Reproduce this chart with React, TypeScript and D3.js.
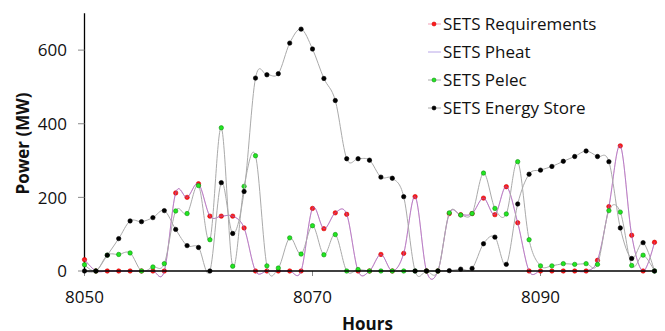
import { useEffect, useRef } from 'react';
import * as d3 from 'd3';

// hours 8050..8100, one reading per hour
const hours = d3.range(8050, 8101);

const requirements = [
  31, 0, 0, 0, 0, 0, 0, 0, 212, 200, 237, 149, 149, 149, 117, 0, 0, 0, 0, 0,
  170, 115, 158, 154, 0, 0, 45, 0, 48, 202, 0, 0, 156, 153, 156, 198, 153, 229, 131, 0,
  0, 0, 0, 0, 0, 29, 175, 340, 97, 0, 78,
];

const pheat = [
  31, 0, 0, 0, 0, 0, 0, 0, 212, 200, 237, 149, 149, 149, 117, 0, 0, 0, 0, 0,
  170, 115, 158, 154, 0, 0, 45, 0, 48, 202, 0, 0, 156, 153, 156, 198, 153, 229, 131, 0,
  0, 0, 0, 0, 0, 29, 175, 340, 97, 0, 78,
];

const pelec = [
  17, 0, 43, 45, 49, 0, 11, 20, 163, 156, 232, 85, 389, 13, 230, 313, 14, 8, 90, 46,
  123, 44, 99, 0, 4, 0, 0, 0, 0, 0, 0, 0, 158, 152, 156, 266, 170, 155, 297, 85,
  14, 14, 20, 18, 20, 18, 164, 160, 15, 43, 0,
];

const energyStore = [
  0, 0, 43, 88, 136, 134, 145, 164, 113, 69, 64, 0, 240, 102, 216, 524, 533, 536, 619, 657,
  603, 523, 463, 305, 305, 301, 255, 252, 202, 0, 0, 0, 1, 5, 7, 74, 92, 18, 182, 263,
  274, 284, 298, 311, 326, 311, 297, 117, 34, 77, 0,
];

const yTicks = [0, 200, 400, 600];
const xTicks = [8050, 8070, 8090];

type Series = {
  name: string;
  values: number[];
  line: string;
  lineOpacity: number;
  marker: string | null;
  markerStroke: string | null;
};

const series: Series[] = [
  { name: 'SETS Requirements', values: requirements, line: '#e8507a', lineOpacity: 0.55, marker: '#ff1a1a', markerStroke: '#d00000' },
  { name: 'SETS Pheat', values: pheat, line: '#8a6ad8', lineOpacity: 0.6, marker: null, markerStroke: null },
  { name: 'SETS Pelec', values: pelec, line: '#aaaaaa', lineOpacity: 1, marker: '#22e622', markerStroke: '#109010' },
  { name: 'SETS Energy Store', values: energyStore, line: '#aaaaaa', lineOpacity: 1, marker: '#000000', markerStroke: '#000000' },
];

export default function App() {
  const svgRef = useRef<SVGSVGElement | null>(null);

  useEffect(() => {
    document.body.style.margin = '0';
    if (!svgRef.current) return;

    const width = 665;
    const height = 331;
    const font = '"Open Sans", sans-serif';

    const svg = d3.select(svgRef.current);
    svg.selectAll('*').remove();
    svg.attr('width', width).attr('height', height);

    const x = d3.scaleLinear().domain([8050, 8100]).range([84.5, 654.5]);
    const y = d3.scaleLinear().domain([0, 700]).range([271, 13.3]);

    // axis lines
    svg.append('line').attr('x1', 84.5).attr('x2', 84.5).attr('y1', y(700)).attr('y2', y(0))
      .attr('stroke', '#000').attr('stroke-width', 1.3);

    // y ticks + labels
    svg.selectAll('.ytick').data(yTicks).enter().append('line')
      .attr('x1', 78).attr('x2', 84.5).attr('y1', (d) => y(d)).attr('y2', (d) => y(d))
      .attr('stroke', '#888').attr('stroke-width', 1);
    svg.selectAll('.ylab').data(yTicks).enter().append('text')
      .attr('x', 67).attr('y', (d) => y(d) + 6.2)
      .attr('text-anchor', 'end').attr('font-family', font).attr('font-size', '17px').attr('fill', '#111')
      .text((d) => String(d));

    // x ticks + labels
    svg.selectAll('.xtick').data(xTicks).enter().append('line')
      .attr('x1', (d) => x(d)).attr('x2', (d) => x(d)).attr('y1', 271).attr('y2', 276)
      .attr('stroke', '#888').attr('stroke-width', 1);
    svg.selectAll('.xlab').data(xTicks).enter().append('text')
      .attr('x', (d) => x(d)).attr('y', 303)
      .attr('text-anchor', 'middle').attr('font-family', font).attr('font-size', '17px').attr('fill', '#111')
      .text((d) => String(d));

    // axis titles
    svg.append('text')
      .attr('transform', `translate(29,${143.5}) rotate(-90)`)
      .attr('text-anchor', 'middle').attr('font-family', font).attr('font-size', '17px').attr('font-weight', 700)
      .attr('fill', '#111').text('Power (MW)');
    svg.append('text')
      .attr('x', 367.5).attr('y', 329.5)
      .attr('text-anchor', 'middle').attr('font-family', font).attr('font-size', '17px').attr('font-weight', 700)
      .attr('fill', '#111').text('Hours');

    const line = d3.line<number>()
      .x((_, i) => x(hours[i]))
      .y((d) => y(d))
      .curve(d3.curveCatmullRom.alpha(0));

    series.forEach((s) => {
      svg.append('path')
        .datum(s.values)
        .attr('fill', 'none')
        .attr('stroke', s.line)
        .attr('stroke-opacity', s.lineOpacity)
        .attr('stroke-width', 1)
        .attr('d', line);
      if (s.marker) {
        svg.selectAll(null).data(s.values).enter().append('circle')
          .attr('cx', (_, i) => x(hours[i]))
          .attr('cy', (d) => y(d))
          .attr('r', 2.2)
          .attr('fill', s.marker)
          .attr('stroke', s.markerStroke!)
          .attr('stroke-width', 0.6);
      }
    });

    // x axis drawn over the markers at zero
    svg.append('line').attr('x1', 84.5).attr('x2', 655).attr('y1', y(0)).attr('y2', y(0))
      .attr('stroke', '#000').attr('stroke-width', 1.3);

    // legend
    const legend = svg.append('g').attr('transform', 'translate(428,24)');
    series.forEach((s, i) => {
      const row = legend.append('g').attr('transform', `translate(0,${i * 28})`);
      row.append('line').attr('x1', 0).attr('x2', 13).attr('y1', 0).attr('y2', 0)
        .attr('stroke', s.line).attr('stroke-opacity', s.lineOpacity).attr('stroke-width', 1);
      if (s.marker) {
        row.append('circle').attr('cx', 6).attr('cy', 0).attr('r', 2)
          .attr('fill', s.marker).attr('stroke', s.markerStroke!).attr('stroke-width', 0.6);
      }
      row.append('text').attr('x', 15).attr('y', 6.2)
        .attr('font-family', font).attr('font-size', '17px').attr('fill', '#111')
        .text(s.name);
    });
  }, []);

  return <svg ref={svgRef} style={{ display: 'block' }} />;
}
